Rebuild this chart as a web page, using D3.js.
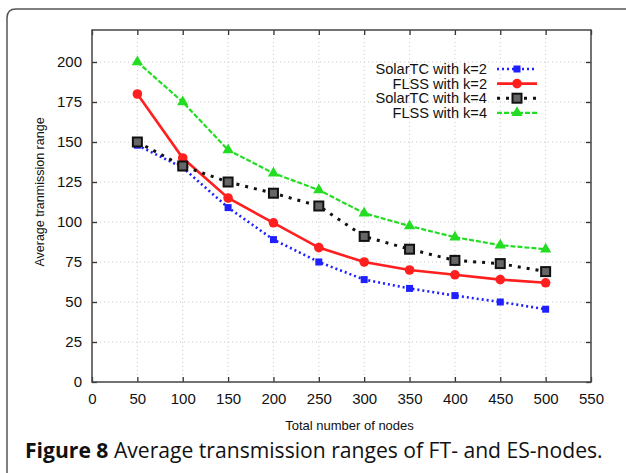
<!DOCTYPE html>
<html>
<head>
<meta charset="utf-8">
<script src="https://cdn.jsdelivr.net/npm/d3@7"></script>
<style>
  body { margin: 0; background: #fff; }
  svg { display: block; font-family: "Liberation Sans", Arial, sans-serif; }
  .grid line { stroke: #c8c8c8; stroke-width: 1; stroke-dasharray: 1,3; }
  .tick-label { font-size: 15px; fill: #111; }
  .axis-label { font-size: 13px; fill: #111; text-anchor: middle; }
  .legend text { font-size: 14.6px; fill: #111; text-anchor: end; }
</style>
</head>
<body>
<svg id="chart" width="626" height="473"></svg>
<script>
var margin = {top: 30, right: 35, bottom: 91, left: 92};

// data
var nodes = [50, 100, 150, 200, 250, 300, 350, 400, 450, 500];
var solarK2 = [148, 134, 109, 89, 75, 64, 58.5, 54, 50, 45.5];
var flssK2 = [180, 140, 115, 99.5, 84, 75, 70, 67, 64, 62];
var solarK4 = [150, 135, 125, 118, 110, 91, 83, 76, 74, 69];
var flssK4 = [200, 175, 145, 130.5, 120, 105.5, 97.5, 90.5, 85.5, 83];
var seriesNames = ["SolarTC with k=2", "FLSS with k=2", "SolarTC with k=4", "FLSS with k=4"];

var xTicks = [0, 50, 100, 150, 200, 250, 300, 350, 400, 450, 500, 550];
var yTicks = [0, 25, 50, 75, 100, 125, 150, 175, 200];

var width = 626 - margin.left - margin.right,
    height = 473 - margin.top - margin.bottom;

var series = [
  {name: seriesNames[0], values: solarK2, color: "#1f1fff", width: 2.6, dash: "2,3", marker: "square"},
  {name: seriesNames[1], values: flssK2, color: "#ff1f1f", width: 2.6, dash: null, marker: "circle"},
  {name: seriesNames[2], values: solarK4, color: "#111", width: 3, dash: "3,6", marker: "box"},
  {name: seriesNames[3], values: flssK4, color: "#22dd22", width: 2.2, dash: "5,2", marker: "triangle"}
];

var x = d3.scaleLinear().domain([0, 550]).range([0, width]);
var y = d3.scaleLinear().domain([0, 220]).range([height, 0]);

var root = d3.select("#chart");

// figure box
root.append("path")
  .attr("d", "M7,480 V18 Q7,9 16,9 H640")
  .style("fill", "none")
  .style("stroke", "#555")
  .style("stroke-width", 1.5);

var svg = root.append("g")
  .attr("transform", "translate(" + margin.left + "," + margin.top + ")");

//Grid
var grid = svg.append("g").attr("class", "grid");
grid.selectAll(".gx")
  .data(xTicks.filter(function(d){ return d > 0 && d < 550; }))
  .enter().append("line")
  .attr("x1", function(d){ return x(d); })
  .attr("x2", function(d){ return x(d); })
  .attr("y1", 0).attr("y2", height);
grid.selectAll(".gy")
  .data(yTicks.filter(function(d){ return d > 0; }))
  .enter().append("line")
  .attr("y1", function(d){ return y(d); })
  .attr("y2", function(d){ return y(d); })
  .attr("x1", 0).attr("x2", width);

//Axes, gnuplot style ticks inward on all sides
function styleAxis(g){
  g.select(".domain").remove();
  g.selectAll(".tick line").style("stroke", "#333").style("stroke-width", 1.3);
  g.selectAll(".tick text").attr("class", "tick-label").style("font-family", null).style("font-size", null);
}

svg.append("g")
  .attr("transform", "translate(0," + height + ")")
  .call(d3.axisBottom(x).tickValues(xTicks).tickSizeInner(-5).tickSizeOuter(0).tickPadding(11))
  .call(styleAxis);
svg.append("g")
  .call(d3.axisTop(x).tickValues(xTicks).tickSizeInner(-5).tickSizeOuter(0).tickFormat(""))
  .call(styleAxis);
svg.append("g")
  .call(d3.axisLeft(y).tickValues(yTicks).tickSizeInner(-5).tickSizeOuter(0).tickPadding(10))
  .call(styleAxis);
svg.append("g")
  .attr("transform", "translate(" + width + ",0)")
  .call(d3.axisRight(y).tickValues(yTicks).tickSizeInner(-5).tickSizeOuter(0).tickFormat(""))
  .call(styleAxis);

svg.selectAll("g text").attr("fill", "#111");

//Frame
svg.append("rect")
  .attr("width", width).attr("height", height)
  .style("fill", "none")
  .style("stroke", "#444")
  .style("stroke-width", 1.5);

//Axis labels
svg.append("text")
  .attr("class", "axis-label")
  .attr("x", width / 2 + 8)
  .attr("y", height + 48)
  .text("Total number of nodes");

svg.append("text")
  .attr("class", "axis-label")
  .attr("transform", "rotate(-90)")
  .attr("x", -(height / 2) + 14)
  .attr("y", -48)
  .style("font-size", "12.5px")
  .text("Average tranmission range");

//Markers
function drawMarker(g, type, color, cx, cy){
  if(type === "square"){
    g.append("rect").attr("x", cx - 3.5).attr("y", cy - 3.5).attr("width", 7).attr("height", 7)
      .style("fill", color);
  } else if(type === "circle"){
    g.append("circle").attr("cx", cx).attr("cy", cy).attr("r", 4.8).style("fill", color);
  } else if(type === "box"){
    g.append("rect").attr("x", cx - 4.5).attr("y", cy - 4.5).attr("width", 9).attr("height", 9)
      .style("fill", "#666").style("stroke", "#111").style("stroke-width", 2);
  } else {
    g.append("path")
      .attr("d", d3.symbol().type(d3.symbolTriangle).size(55)())
      .attr("transform", "translate(" + cx + "," + cy + ")")
      .style("fill", color);
  }
}

//Lines
var line = d3.line()
  .x(function(d, i){ return x(nodes[i]); })
  .y(function(d){ return y(d); });

series.forEach(function(s){
  svg.append("path")
    .datum(s.values)
    .attr("d", line)
    .style("fill", "none")
    .style("stroke", s.color)
    .style("stroke-width", s.width)
    .style("stroke-dasharray", s.dash);
  var mg = svg.append("g");
  s.values.forEach(function(v, i){
    drawMarker(mg, s.marker, s.color, x(nodes[i]), y(v));
  });
});

//Legend
var legend = svg.append("g").attr("class", "legend")
  .attr("transform", "translate(" + (487 - margin.left) + "," + (69 - margin.top) + ")");
series.forEach(function(s, i){
  var row = legend.append("g").attr("transform", "translate(0," + (i * 14.6) + ")");
  row.append("text").attr("x", 0).attr("y", 5).text(s.name);
  row.append("line")
    .attr("x1", 10).attr("x2", 50)
    .style("stroke", s.color)
    .style("stroke-width", s.width)
    .style("stroke-dasharray", s.dash);
  drawMarker(row, s.marker, s.color, 30, 0);
});

//Caption, sized so it spans the same width as the original
var cap = root.append("text")
  .attr("x", 25)
  .attr("y", 458)
  .style("font-family", "'Open Sans', 'Noto Sans', sans-serif")
  .style("font-size", "18px")
  .style("fill", "#111");
cap.append("tspan").style("font-weight", "bold").text("Figure 8");
cap.append("tspan").text(" Average transmission ranges of FT- and ES-nodes.");
var capLen = cap.node().getComputedTextLength();
cap.style("font-size", (18 * 578 / capLen) + "px");
</script>
</body>
</html>
